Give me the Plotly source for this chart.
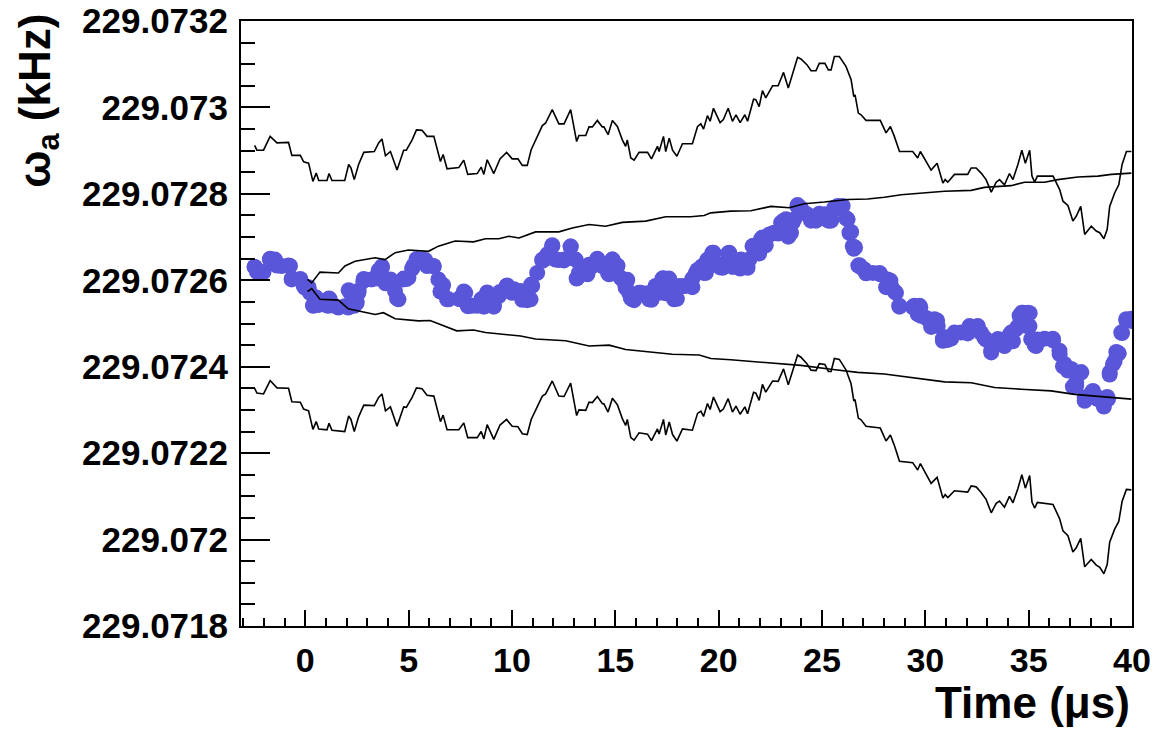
import plotly.graph_objects as go

# ---- running omega_a fit vs. fit start time (individual fit results) ----
t_omega = [-2.45, -2.28, -1.71, -1.47, -1.15, -0.74, -0.66, -0.26, -0.02, 0.23,
           0.39, 1.11, 1.19, 1.60, 2.08, 2.25, 2.49, 2.57, 2.81, 3.21,
           3.54, 3.70, 3.86, 4.18, 4.34, 4.51, 4.75, 4.99, 5.23, 5.56,
           5.80, 6.20, 6.44, 6.61, 6.93, 7.49, 7.74, 7.90, 8.07, 8.72,
           8.80, 9.12, 9.37, 9.77, 10.10, 10.42, 10.66, 10.90, 10.98, 11.22,
           11.47, 11.71, 11.95, 12.11, 12.52, 12.84, 13.08, 13.16, 13.65, 13.89,
           14.13, 14.37, 14.70, 14.86, 15.10, 15.26, 15.50, 15.67, 15.83, 16.23,
           16.63, 16.95, 17.28, 17.60, 17.84, 18.09, 18.41, 18.73, 18.90, 19.22,
           19.38, 19.70, 19.95, 20.19, 20.51, 20.76, 21.08, 21.48, 21.64, 22.05,
           22.45, 22.69, 23.02, 23.26, 23.50, 23.66, 23.82, 24.14, 24.47, 25.11,
           25.44, 25.76, 26.00, 26.24, 26.33, 26.49, 26.81, 27.05, 27.46, 27.78,
           28.18, 28.34, 28.58, 28.74, 29.47, 29.72, 29.79, 30.12, 30.44, 30.60,
           30.85, 31.25, 31.74, 32.14, 32.54, 32.86, 33.19, 33.51, 33.83, 34.15,
           34.39, 34.56, 34.72, 34.96, 35.04, 35.12, 35.36, 35.77, 36.17, 36.49,
           36.74, 37.06, 37.30, 37.55, 37.71, 38.11, 38.35, 38.59, 38.84, 38.92,
           39.08, 39.24, 39.48, 39.72, 39.97]
omega = [229.072631, 229.072618, 229.072648, 229.072648, 229.072633, 229.072633, 229.072602, 229.072602, 229.072583, 229.072571,
         229.072541, 229.072541, 229.072556, 229.072537, 229.072537, 229.072571, 229.072548, 229.072571, 229.072598, 229.072602,
         229.072604, 229.072629, 229.072602, 229.072598, 229.072575, 229.072556, 229.072602, 229.072606, 229.072633, 229.072648,
         229.072647, 229.072633, 229.072602, 229.072575, 229.072556, 229.072556, 229.072571, 229.072541, 229.072541, 229.072541,
         229.072570, 229.072541, 229.072564, 229.072588, 229.072579, 229.072575, 229.072556, 229.072556, 229.072587, 229.072617,
         229.072648, 229.072660, 229.072679, 229.072648, 229.072648, 229.072678, 229.072648, 229.072606, 229.072614, 229.072633,
         229.072648, 229.072633, 229.072614, 229.072648, 229.072633, 229.072606, 229.072583, 229.072571, 229.072556, 229.072571,
         229.072556, 229.072587, 229.072604, 229.072604, 229.072556, 229.072587, 229.072587, 229.072604, 229.072617, 229.072633,
         229.072617, 229.072664, 229.072637, 229.072629, 229.072664, 229.072644, 229.072648, 229.072648, 229.072679, 229.072695,
         229.072706, 229.072710, 229.072733, 229.072741, 229.072710, 229.072741, 229.072774, 229.072756, 229.072745, 229.072745,
         229.072741, 229.072772, 229.072772, 229.072741, 229.072710, 229.072679, 229.072635, 229.072625, 229.072617, 229.072617,
         229.072602, 229.072587, 229.072571, 229.072541, 229.072541, 229.072541, 229.072518, 229.072510, 229.072510, 229.072494,
         229.072465, 229.072465, 229.072479, 229.072494, 229.072494, 229.072467, 229.072437, 229.072464, 229.072460, 229.072479,
         229.072487, 229.072518, 229.072525, 229.072525, 229.072494, 229.072464, 229.072448, 229.072465, 229.072465, 229.072437,
         229.072406, 229.072395, 229.072356, 229.072387, 229.072329, 229.072344, 229.072329, 229.072316, 229.072325, 229.072387,
         229.072406, 229.072434, 229.072479, 229.072510, 229.072511]

# ---- finer sampling of the same fits, with their +/- 1 sigma statistical band ----
t_band = [-2.45, -2.34, -2.02, -1.70, -1.37, -0.81, -0.65, -0.24, -0.08, 0.16,
          0.37, 0.53, 0.65, 1.05, 1.15, 1.29, 1.91, 2.10, 2.21, 2.37,
          2.58, 2.83, 3.34, 3.55, 3.71, 3.88, 4.12, 4.44, 4.76, 4.89,
          5.17, 5.38, 5.65, 5.89, 6.22, 6.54, 6.67, 6.86, 7.43, 7.67,
          7.86, 8.32, 8.51, 8.64, 8.80, 9.12, 9.42, 9.74, 10.01, 10.29,
          10.50, 10.74, 10.93, 11.47, 11.63, 11.95, 12.27, 12.52, 12.84, 13.13,
          13.24, 13.57, 13.73, 13.89, 14.13, 14.37, 14.45, 14.65, 14.86, 15.10,
          15.34, 15.50, 15.58, 15.75, 15.91, 16.15, 16.56, 16.75, 17.04, 17.12,
          17.33, 17.44, 17.61, 17.77, 17.98, 18.25, 18.73, 18.98, 19.14, 19.27,
          19.46, 19.59, 19.75, 20.07, 20.23, 20.46, 20.67, 20.84, 21.04, 21.27,
          21.40, 21.69, 21.80, 21.96, 22.12, 22.28, 22.61, 22.88, 23.14, 23.37,
          23.58, 23.82, 23.98, 24.27, 24.47, 24.71, 24.87, 25.14, 25.31, 25.44,
          25.60, 25.84, 26.16, 26.41, 26.54, 26.60, 26.76, 26.89, 27.13, 27.82,
          28.10, 28.31, 28.50, 28.75, 29.39, 29.63, 29.76, 30.04, 30.28, 30.57,
          30.85, 30.96, 31.09, 31.41, 32.05, 32.22, 32.46, 32.70, 32.94, 33.19,
          33.43, 33.59, 33.83, 34.07, 34.24, 34.48, 34.67, 34.84, 35.05, 35.16,
          35.29, 35.42, 36.18, 36.50, 36.66, 36.90, 37.14, 37.30, 37.52, 37.71,
          38.03, 38.27, 38.44, 38.64, 38.80, 38.92, 39.16, 39.36, 39.52, 39.73,
          39.97]
omega_fine = [229.072631, 229.072620, 229.072619, 229.072650, 229.072634, 229.072634, 229.072604, 229.072603, 229.072588, 229.072584,
              229.072542, 229.072560, 229.072543, 229.072542, 229.072558, 229.072542, 229.072540, 229.072577, 229.072569, 229.072541,
              229.072576, 229.072603, 229.072604, 229.072623, 229.072632, 229.072593, 229.072602, 229.072558, 229.072604, 229.072603,
              229.072627, 229.072649, 229.072648, 229.072633, 229.072632, 229.072574, 229.072589, 229.072556, 229.072557, 229.072574,
              229.072540, 229.072541, 229.072556, 229.072539, 229.072572, 229.072539, 229.072573, 229.072587, 229.072571, 229.072571,
              229.072555, 229.072554, 229.072590, 229.072645, 229.072650, 229.072681, 229.072647, 229.072646, 229.072678, 229.072604,
              229.072617, 229.072617, 229.072636, 229.072636, 229.072650, 229.072635, 229.072634, 229.072616, 229.072648, 229.072634,
              229.072602, 229.072587, 229.072601, 229.072559, 229.072554, 229.072571, 229.072570, 229.072555, 229.072583, 229.072571,
              229.072605, 229.072570, 229.072600, 229.072572, 229.072557, 229.072586, 229.072584, 229.072624, 229.072629, 229.072617,
              229.072648, 229.072634, 229.072664, 229.072630, 229.072637, 229.072662, 229.072631, 229.072646, 229.072627, 229.072645,
              229.072629, 229.072680, 229.072678, 229.072662, 229.072699, 229.072681, 229.072708, 229.072708, 229.072738, 229.072701,
              229.072734, 229.072771, 229.072767, 229.072753, 229.072738, 229.072738, 229.072754, 229.072753, 229.072738, 229.072738,
              229.072768, 229.072767, 229.072744, 229.072712, 229.072673, 229.072676, 229.072634, 229.072630, 229.072616, 229.072614,
              229.072584, 229.072599, 229.072575, 229.072539, 229.072538, 229.072522, 229.072537, 229.072513, 229.072492, 229.072507,
              229.072460, 229.072468, 229.072462, 229.072479, 229.072477, 229.072492, 229.072491, 229.072478, 229.072463, 229.072433,
              229.072455, 229.072461, 229.072448, 229.072473, 229.072459, 229.072493, 229.072525, 229.072495, 229.072524, 229.072464,
              229.072450, 229.072463, 229.072461, 229.072429, 229.072401, 229.072391, 229.072354, 229.072364, 229.072387, 229.072321,
              229.072339, 229.072327, 229.072323, 229.072308, 229.072330, 229.072382, 229.072413, 229.072431, 229.072478, 229.072507,
              229.072506]
band_hi = [229.072912, 229.072901, 229.072901, 229.072933, 229.072918, 229.072919, 229.072889, 229.072889, 229.072874, 229.072871,
           229.072829, 229.072848, 229.072831, 229.072831, 229.072847, 229.072831, 229.072831, 229.072868, 229.072860, 229.072833,
           229.072868, 229.072896, 229.072898, 229.072918, 229.072927, 229.072888, 229.072898, 229.072855, 229.072901, 229.072901,
           229.072925, 229.072948, 229.072947, 229.072933, 229.072933, 229.072875, 229.072891, 229.072858, 229.072861, 229.072878,
           229.072845, 229.072847, 229.072862, 229.072845, 229.072879, 229.072847, 229.072881, 229.072896, 229.072881, 229.072881,
           229.072866, 229.072866, 229.072902, 229.072958, 229.072964, 229.072995, 229.072962, 229.072962, 229.072995, 229.072921,
           229.072935, 229.072935, 229.072955, 229.072955, 229.072970, 229.072955, 229.072955, 229.072937, 229.072970, 229.072956,
           229.072925, 229.072910, 229.072925, 229.072883, 229.072878, 229.072896, 229.072896, 229.072881, 229.072910, 229.072898,
           229.072933, 229.072898, 229.072929, 229.072901, 229.072887, 229.072916, 229.072916, 229.072956, 229.072962, 229.072950,
           229.072981, 229.072968, 229.072998, 229.072965, 229.072972, 229.072998, 229.072968, 229.072983, 229.072965, 229.072983,
           229.072968, 229.073019, 229.073018, 229.073002, 229.073039, 229.073022, 229.073050, 229.073050, 229.073081, 229.073045,
           229.073078, 229.073116, 229.073112, 229.073099, 229.073085, 229.073085, 229.073102, 229.073102, 229.073087, 229.073087,
           229.073118, 229.073118, 229.073095, 229.073064, 229.073025, 229.073029, 229.072987, 229.072983, 229.072970, 229.072970,
           229.072941, 229.072956, 229.072933, 229.072898, 229.072898, 229.072883, 229.072898, 229.072875, 229.072855, 229.072871,
           229.072825, 229.072833, 229.072827, 229.072845, 229.072845, 229.072860, 229.072860, 229.072848, 229.072833, 229.072804,
           229.072827, 229.072833, 229.072821, 229.072847, 229.072833, 229.072868, 229.072901, 229.072871, 229.072901, 229.072841,
           229.072827, 229.072841, 229.072841, 229.072810, 229.072783, 229.072773, 229.072737, 229.072748, 229.072771, 229.072706,
           229.072725, 229.072714, 229.072710, 229.072696, 229.072718, 229.072771, 229.072802, 229.072821, 229.072868, 229.072898,
           229.072898]
band_lo = [229.072350, 229.072339, 229.072337, 229.072368, 229.072351, 229.072350, 229.072319, 229.072318, 229.072302, 229.072298,
           229.072255, 229.072273, 229.072256, 229.072254, 229.072269, 229.072253, 229.072250, 229.072286, 229.072278, 229.072250,
           229.072284, 229.072311, 229.072310, 229.072329, 229.072337, 229.072298, 229.072307, 229.072262, 229.072307, 229.072306,
           229.072329, 229.072351, 229.072349, 229.072334, 229.072332, 229.072273, 229.072288, 229.072254, 229.072254, 229.072270,
           229.072236, 229.072236, 229.072250, 229.072233, 229.072266, 229.072232, 229.072265, 229.072278, 229.072262, 229.072261,
           229.072245, 229.072243, 229.072278, 229.072332, 229.072337, 229.072367, 229.072332, 229.072331, 229.072362, 229.072287,
           229.072300, 229.072299, 229.072318, 229.072317, 229.072331, 229.072315, 229.072314, 229.072295, 229.072327, 229.072312,
           229.072280, 229.072264, 229.072278, 229.072236, 229.072230, 229.072247, 229.072244, 229.072229, 229.072256, 229.072244,
           229.072278, 229.072242, 229.072272, 229.072243, 229.072228, 229.072256, 229.072253, 229.072292, 229.072297, 229.072285,
           229.072315, 229.072301, 229.072330, 229.072296, 229.072302, 229.072326, 229.072295, 229.072309, 229.072290, 229.072307,
           229.072291, 229.072341, 229.072339, 229.072322, 229.072359, 229.072341, 229.072367, 229.072366, 229.072395, 229.072358,
           229.072390, 229.072427, 229.072422, 229.072407, 229.072392, 229.072391, 229.072407, 229.072405, 229.072389, 229.072389,
           229.072419, 229.072417, 229.072393, 229.072360, 229.072321, 229.072324, 229.072281, 229.072277, 229.072262, 229.072258,
           229.072228, 229.072242, 229.072218, 229.072181, 229.072178, 229.072161, 229.072176, 229.072151, 229.072130, 229.072144,
           229.072096, 229.072104, 229.072097, 229.072113, 229.072110, 229.072124, 229.072122, 229.072109, 229.072093, 229.072062,
           229.072084, 229.072089, 229.072075, 229.072100, 229.072085, 229.072118, 229.072150, 229.072119, 229.072148, 229.072087,
           229.072073, 229.072086, 229.072081, 229.072048, 229.072020, 229.072009, 229.071971, 229.071981, 229.072003, 229.071937,
           229.071954, 229.071941, 229.071936, 229.071921, 229.071942, 229.071994, 229.072024, 229.072042, 229.072088, 229.072116,
           229.072115]

# ---- allowed-deviation funnel relative to the t = 0 fit ----
t_ref_hi = [0.11, 0.31, 0.71, 1.60, 1.92, 2.41, 3.38, 3.86, 4.35, 4.99,
            5.96, 6.44, 7.25, 8.14, 8.72, 9.37, 9.85, 10.34, 11.14, 12.27,
            12.92, 13.73, 14.53, 15.34, 16.47, 17.44, 18.65, 19.30, 19.62, 20.59,
            21.56, 22.53, 23.42, 24.14, 25.11, 26.24, 27.21, 28.02, 28.83, 29.96,
            30.93, 32.22, 32.86, 34.15, 34.80, 35.77, 36.41, 37.38, 38.35, 39.00,
            39.97]
ref_hi = [229.072602, 229.072594, 229.072619, 229.072617, 229.072633, 229.072644, 229.072652, 229.072648, 229.072664, 229.072670,
          229.072667, 229.072679, 229.072691, 229.072689, 229.072696, 229.072696, 229.072702, 229.072698, 229.072712, 229.072712,
          229.072721, 229.072729, 229.072725, 229.072734, 229.072737, 229.072747, 229.072747, 229.072750, 229.072756, 229.072760,
          229.072761, 229.072771, 229.072768, 229.072777, 229.072781, 229.072787, 229.072788, 229.072792, 229.072798, 229.072802,
          229.072806, 229.072808, 229.072815, 229.072819, 229.072827, 229.072827, 229.072833, 229.072839, 229.072841, 229.072845,
          229.072848]
t_ref_lo = [0.11, 0.31, 0.71, 1.60, 2.08, 2.57, 3.38, 3.78, 4.35, 5.48,
            6.04, 7.33, 8.14, 8.72, 9.69, 10.42, 11.14, 12.60, 13.73, 14.70,
            15.50, 16.79, 17.76, 19.06, 19.62, 20.59, 21.88, 23.17, 23.98, 25.43,
            26.73, 28.02, 29.14, 29.96, 30.93, 32.22, 33.35, 34.64, 36.09, 37.22,
            38.67, 39.97]
ref_lo = [229.072574, 229.072581, 229.072556, 229.072554, 229.072534, 229.072529, 229.072521, 229.072525, 229.072511, 229.072506,
          229.072507, 229.072483, 229.072485, 229.072479, 229.072475, 229.072471, 229.072464, 229.072460, 229.072448, 229.072450,
          229.072440, 229.072434, 229.072429, 229.072427, 229.072419, 229.072416, 229.072411, 229.072406, 229.072403, 229.072394,
          229.072387, 229.072383, 229.072376, 229.072371, 229.072365, 229.072363, 229.072352, 229.072348, 229.072344, 229.072336,
          229.072331, 229.072325]

# ---- axis ticks ----
x_ticks = [0, 5, 10, 15, 20, 25, 30, 35, 40]
y_ticks = [229.0718, 229.0720, 229.0722, 229.0724, 229.0726, 229.0728, 229.0730, 229.0732]
y_tick_text = ["229.0718", "229.072", "229.0722", "229.0724", "229.0726", "229.0728", "229.073", "229.0732"]

FONT = "Liberation Sans, Arial, Helvetica, sans-serif"
LINE = dict(color="black", width=1.6)

fig = go.Figure()
fig.add_trace(go.Scatter(x=t_omega + t_band, y=omega + omega_fine, mode="markers",
                         marker=dict(size=16, color="#5a56d9", line=dict(width=0)),
                         showlegend=False))
fig.add_trace(go.Scatter(x=t_band, y=band_hi, mode="lines", line=LINE, showlegend=False))
fig.add_trace(go.Scatter(x=t_band, y=band_lo, mode="lines", line=LINE, showlegend=False))
fig.add_trace(go.Scatter(x=t_ref_hi, y=ref_hi, mode="lines", line=LINE, showlegend=False))
fig.add_trace(go.Scatter(x=t_ref_lo, y=ref_lo, mode="lines", line=LINE, showlegend=False))

fig.update_layout(
    width=1154, height=730,
    margin=dict(l=241, r=22, t=21, b=104, autoexpand=False),
    paper_bgcolor="white", plot_bgcolor="white",
    showlegend=False,
    xaxis=dict(
        range=[-3.11, 40], tickmode="array", tickvals=x_ticks,
        ticks="inside", ticklen=16, tickwidth=2, tickcolor="black",
        minor=dict(tickmode="linear", tick0=0, dtick=1, ticks="inside",
                   ticklen=8, tickwidth=1.5, tickcolor="black", showgrid=False),
        showline=True, linewidth=2, linecolor="black", mirror=True,
        showgrid=False, zeroline=False, automargin=False,
        tickfont=dict(family=FONT, size=34, color="black", weight="bold"),
        ticklabelstandoff=3,
    ),
    yaxis=dict(
        range=[229.0718, 229.0732], tickmode="array", tickvals=y_ticks, ticktext=y_tick_text,
        ticks="inside", ticklen=29, tickwidth=2, tickcolor="black",
        minor=dict(tickmode="linear", tick0=229.0718, dtick=0.00005, ticks="inside",
                   ticklen=14, tickwidth=1.5, tickcolor="black", showgrid=False),
        showline=True, linewidth=2, linecolor="black", mirror=True,
        showgrid=False, zeroline=False, automargin=False,
        tickfont=dict(family=FONT, size=35, color="black", weight="bold"),
        ticklabelstandoff=4,
    ),
    annotations=[
        dict(text="Time (\u03bcs)", xref="paper", yref="paper", x=1.0, y=-0.127,
             xanchor="right", yanchor="middle", showarrow=False,
             font=dict(family=FONT, size=44, color="black", weight="bold")),
        dict(text="\u03c9<sub>a</sub> (kHz)", xref="paper", yref="paper", x=-0.228, y=1.015,
             xanchor="center", yanchor="top", textangle=-90, showarrow=False,
             font=dict(family=FONT, size=44, color="black", weight="bold")),
    ],
)

fig.write_html("out.html")
